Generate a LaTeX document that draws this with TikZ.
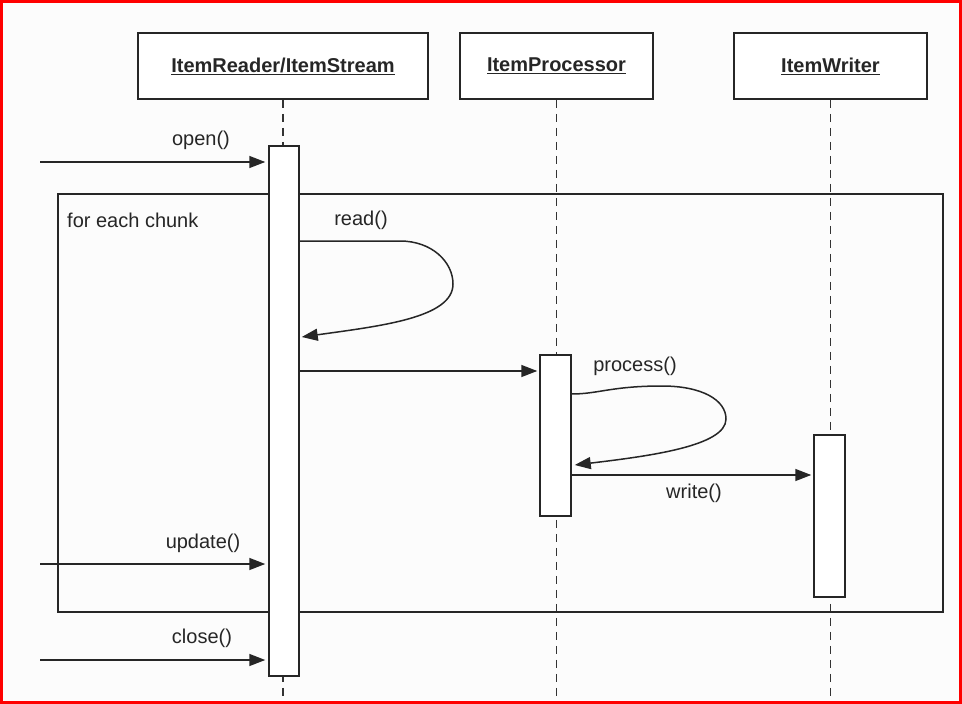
\documentclass[tikz,border=0pt]{standalone}
\usepackage{fontspec}
\setmainfont{Liberation Sans}
\usetikzlibrary{arrows.meta}
\begin{document}
\begin{tikzpicture}[x=1pt,y=-1pt,
  ink/.style={draw=black!85, line width=1.5pt},
  head/.style={ink, fill=white, minimum width=193pt, minimum height=66pt,
    inner sep=0pt, font=\fontsize{20}{24}\selectfont\bfseries, text=black!85},
  bar/.style={ink, fill=white, minimum width=30pt, inner sep=0pt},
  life/.style={draw=black!80, line width=1.5pt, dash pattern=on 8pt off 6pt},
  msg/.style={ink, -{Triangle[length=16pt,width=12pt]}},
  lbl/.style={font=\fontsize{20}{24}\selectfont, text=black!85, inner sep=0pt}]
  % page area
  \fill[white!99!black] (0,0) rectangle (962,704);
  \useasboundingbox (0,0) rectangle (962,704);

  % object heads
  \node[head, minimum width=290pt] (rh) at (283,66) {\underline{ItemReader/ItemStream}};
  \node[head] (ph) at (556.5,66) {\underline{ItemProcessor}};
  \node[head] (wh) at (830.5,66) {\underline{ItemWriter}};

  % rows used by messages
  \coordinate (ybot) at (0,704);
  \coordinate (yopen) at (40,162);
  \coordinate (yupd) at (40,564);
  \coordinate (yclose) at (40,660);
  \coordinate (yproc) at (0,371);
  \coordinate (ywrite) at (0,475);

  % lifelines
  \draw[life] (rh.south) -- (rh.south |- ybot);
  \draw[life] (ph.south) -- (ph.south |- ybot);
  \draw[life] (wh.south) -- (wh.south |- ybot);

  % loop fragment
  \node[ink, minimum width=885pt, minimum height=418pt, inner sep=0pt] (loop) at (500.5,403) {};
  \node[lbl, anchor=west] (looplbl) at (67,220) {for each chunk};

  % activation bars
  \node[bar, minimum height=530pt] (act1) at (284,411) {};
  \node[bar, minimum width=31pt, minimum height=161pt] (act2) at (555.5,435.5) {};
  \node[bar, minimum width=31pt, minimum height=162pt] (act3) at (829.5,516) {};

  % calls from outside
  \draw[msg, shorten >=3pt] (yopen) -- (yopen -| act1.west);
  \node[lbl] (lopen) at (201,140) {open()};
  \draw[msg, shorten >=3pt] (yupd) -- (yupd -| act1.west);
  \node[lbl] (lupd) at (203,543) {update()};
  \draw[msg, shorten >=3pt] (yclose) -- (yclose -| act1.west);
  \node[lbl] (lclose) at (202,638) {close()};

  % read() self call
  \coordinate (r0) at (act1.east |- 0,241);
  \coordinate (r1) at (act1.east |- 0,337);
  \draw[msg] (r0) -- (400,241) .. controls (432,241) and (453,262) .. (453,284)
    .. controls (453,318) and (380,326) .. ([xshift=2pt]r1);
  \node[lbl] (lread) at (361,220) {read()};

  % item handed to the processor
  \draw[msg, shorten >=2pt] (act1.east |- yproc) -- (act2.west |- yproc);

  % process() self call
  \coordinate (p0) at (act2.east |- 0,394);
  \coordinate (p1) at (act2.east |- 0,465);
  \draw[msg] (p0) .. controls (598,394) and (612,386) .. (662,386)
    .. controls (702,386) and (726,400) .. (726,419)
    .. controls (726,446) and (650,456) .. ([xshift=3pt]p1);
  \node[lbl] (lproc) at (635,366) {process()};

  % write()
  \draw[msg, shorten >=2pt] (act2.east |- ywrite) -- (act3.west |- ywrite);
  \node[lbl] (lwrite) at (694,493) {write()};

  % red frame
  \draw[red, line width=3pt] (1.5,1.5) rectangle (960.5,702.5);
\end{tikzpicture}
\end{document}
